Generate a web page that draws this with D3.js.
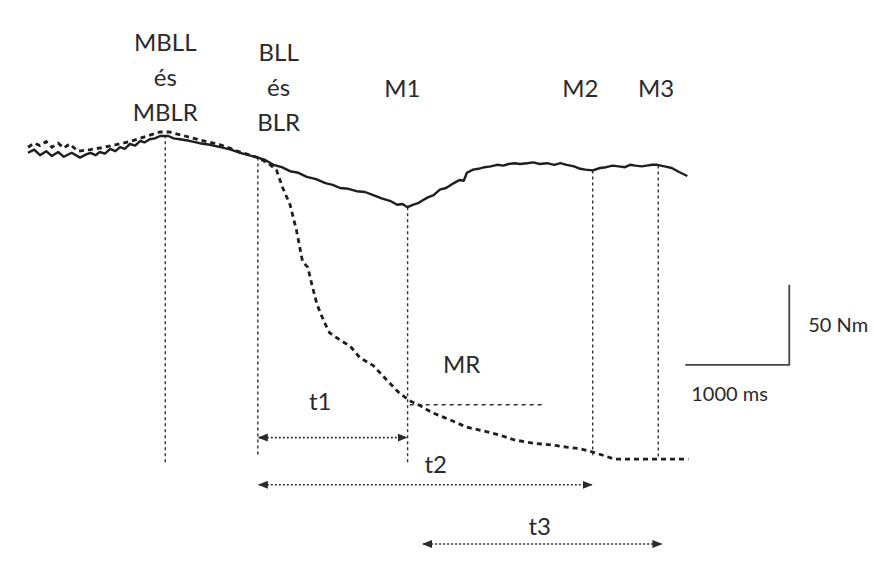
<!DOCTYPE html>
<html>
<head>
<meta charset="utf-8">
<script src="https://cdn.jsdelivr.net/npm/d3@7"></script>
<style>
  body { margin: 0; background: #fff; }
  text { font-family: Lato, "Open Sans", sans-serif; fill: #2a2a2a; }
</style>
</head>
<body>
<script>
// time in ms, torque in Nm
var solidTime = [0, 60, 115, 175, 230, 290, 345, 420, 500, 560, 600, 650, 690, 740, 790, 840, 885, 930, 980, 1030, 1080, 1120, 1170, 1220, 1270, 1350, 1400, 1460, 1550, 1650, 1750, 1850, 1950, 2040, 2120, 2210, 2280, 2360, 2440, 2520, 2600, 2680, 2770, 2860, 2930, 3000, 3080, 3160, 3240, 3320, 3400, 3480, 3550, 3600, 3650, 3700, 3750, 3800, 3840, 3900, 3960, 4020, 4080, 4120, 4150, 4190, 4220, 4280, 4330, 4390, 4450, 4510, 4570, 4620, 4680, 4730, 4800, 4860, 4920, 4990, 5060, 5120, 5180, 5250, 5310, 5360, 5430, 5500, 5560, 5620, 5680, 5740, 5790, 5840, 5900, 5950, 6000, 6050, 6120, 6190, 6260, 6340];
var solidTorque = [192, 194, 190.5, 193, 190, 192.5, 189.5, 192, 189, 191, 192, 190.5, 192.5, 191.5, 194.5, 193, 195.5, 194.5, 197.5, 196.5, 199.5, 198.5, 200.5, 201, 202.5, 202.5, 201, 200.5, 199.5, 198, 197, 195.5, 194, 192, 190.5, 189, 187.5, 184.5, 183, 180.5, 179.5, 177, 175.5, 173, 172, 170, 169.5, 168, 167.5, 165.5, 163.5, 162, 159.5, 160, 158, 159.5, 160.5, 162.5, 164, 165.5, 169, 170, 172.5, 174, 175, 174.5, 179.5, 181.5, 182, 183, 183.5, 184.5, 184, 185, 185.5, 185, 185.5, 186, 185, 185.5, 184.5, 185.5, 184.5, 183.5, 182, 181.5, 181, 182.5, 183, 184, 183.5, 183, 184.5, 184, 183.5, 184, 184.5, 184.5, 183.5, 182.5, 180, 177.5];

var dashTime = [0, 60, 115, 175, 230, 290, 345, 400, 480, 600, 690, 840, 980, 1120, 1270, 1360, 1510, 1650, 1850, 2040, 2210, 2310, 2390, 2450, 2520, 2580, 2640, 2690, 2730, 2780, 2850, 2900, 3000, 3100, 3190, 3320, 3450, 3560, 3670, 3770, 3890, 4060, 4220, 4390, 4540, 4680, 4860, 5020, 5180, 5310, 5430, 5550, 5640, 5890, 6130, 6350];
var dashTorque = [195.5, 198, 196.5, 199, 195.5, 198, 195, 197.5, 193, 194, 195, 197, 199, 202, 205, 205, 202.5, 200, 197, 192.5, 189, 185.5, 181, 170, 159.5, 144, 124, 120.5, 109.5, 97, 86, 79.5, 75, 71, 64, 59, 50, 42.5, 37, 34, 29.5, 25, 20.5, 18, 15.5, 12.5, 10.5, 9.5, 8, 7, 5, 2.5, 0.5, 0.5, 0.5, 0.5];

// vertical marker lines: time, top torque, bottom torque
var markerNames = ["MBLL", "BLL", "M1", "M2", "M3"];
var markerTime = [1320, 2210, 3650, 5430, 6060];
var markerTop = [203, 189, 158, 181, 184];
var markerBottom = [-1.5, 3, -2, 3, 1];

// labels above the chart
var topLabels = [["MBLL", "és", "MBLR"], ["BLL", "és", "BLR"], ["M1"], ["M2"], ["M3"]];
var topLabelTime = [1320, 2410, 3600, 5310, 6040];
var topLabelBaseline = [51, 61, 97, 97, 97];

// time intervals (double arrows)
var spanNames = ["t1", "t2", "t3"];
var spanStart = [2210, 2210, 3790];
var spanEnd = [3650, 5430, 6100];
var spanLevel = [14, -15.5, -52.5];
var spanLabelTime = [2810, 3920, 4920];
var spanLabelLevel = [31, -8, -47];

// MR horizontal line
var mrStart = 3670, mrEnd = 4970, mrLevel = 34.5;

// scale bar
var barTime = 1000, barTorque = 50;

var width = 874, height = 569;

var svg = d3.select("body")
    .append("svg")
    .attr("width", width)
    .attr("height", height);

var x = d3.scaleLinear().domain([0, 7000]).range([28, 28 + 7000 * 0.104]);
var y = d3.scaleLinear().domain([0, 200]).range([460, 140]);

// arrow heads
var defs = svg.append("defs");
defs.append("marker")
    .attr("id", "head")
    .attr("viewBox", "0 0 10 10")
    .attr("refX", 9).attr("refY", 5)
    .attr("markerWidth", 10).attr("markerHeight", 10)
    .attr("markerUnits", "userSpaceOnUse")
    .attr("orient", "auto-start-reverse")
    .append("path")
    .attr("d", "M0,1 L10,5 L0,9 Z")
    .attr("fill", "#2a2a2a");

// marker lines
svg.selectAll(".mline")
    .data(markerTime)
    .enter().append("line")
    .attr("class", "mline")
    .attr("x1", function(d) { return x(d); })
    .attr("x2", function(d) { return x(d); })
    .attr("y1", function(d, i) { return y(markerTop[i]); })
    .attr("y2", function(d, i) { return y(markerBottom[i]); })
    .attr("stroke", "#333")
    .attr("stroke-width", 1.4)
    .attr("stroke-dasharray", "3,3");

// MR line
svg.append("line")
    .attr("x1", x(mrStart)).attr("x2", x(mrEnd))
    .attr("y1", y(mrLevel)).attr("y2", y(mrLevel))
    .attr("stroke", "#333")
    .attr("stroke-width", 1.4)
    .attr("stroke-dasharray", "4,4");

var line = d3.line()
    .x(function(d) { return x(d[0]); })
    .y(function(d) { return y(d[1]); });

// dashed curve
svg.append("path")
    .datum(d3.zip(dashTime, dashTorque))
    .attr("d", line)
    .attr("fill", "none")
    .attr("stroke", "#1e1e1e")
    .attr("stroke-width", 2.8)
    .attr("stroke-dasharray", "5,4");

// solid curve
svg.append("path")
    .datum(d3.zip(solidTime, solidTorque))
    .attr("d", line)
    .attr("fill", "none")
    .attr("stroke", "#1e1e1e")
    .attr("stroke-width", 2.4)
    .attr("stroke-linejoin", "round");

// interval arrows
svg.selectAll(".span")
    .data(spanNames)
    .enter().append("line")
    .attr("class", "span")
    .attr("x1", function(d, i) { return x(spanStart[i]) + 1; })
    .attr("x2", function(d, i) { return x(spanEnd[i]) - 1; })
    .attr("y1", function(d, i) { return y(spanLevel[i]); })
    .attr("y2", function(d, i) { return y(spanLevel[i]); })
    .attr("stroke", "#333")
    .attr("stroke-width", 1.6)
    .attr("stroke-dasharray", "2,2")
    .attr("marker-start", "url(#head)")
    .attr("marker-end", "url(#head)");

svg.selectAll(".spanlabel")
    .data(spanNames)
    .enter().append("text")
    .attr("x", function(d, i) { return x(spanLabelTime[i]); })
    .attr("y", function(d, i) { return y(spanLabelLevel[i]); })
    .attr("text-anchor", "middle")
    .style("font-size", "24px")
    .text(function(d) { return d; });

svg.append("text")
    .attr("x", x(4170)).attr("y", y(54.5))
    .attr("text-anchor", "middle")
    .style("font-size", "24px")
    .text("MR");

// top labels
topLabels.forEach(function(lines, i) {
    var t = svg.append("text")
        .attr("text-anchor", "middle")
        .style("font-size", "24px");
    lines.forEach(function(s, j) {
        t.append("tspan")
            .attr("x", x(topLabelTime[i]))
            .attr("y", topLabelBaseline[i] + j * 35)
            .text(s);
    });
});

// scale bar
var bx0 = 6320, by0 = 59.5;
svg.append("path")
    .attr("d", "M" + x(bx0) + "," + y(by0) + " L" + x(bx0 + barTime) + "," + y(by0) + " L" + x(bx0 + barTime) + "," + y(by0 + barTorque))
    .attr("fill", "none")
    .attr("stroke", "#444")
    .attr("stroke-width", 1.8);

svg.append("text")
    .attr("x", x(bx0 + barTime) + 19)
    .attr("y", y(by0 + barTorque / 2) + 7)
    .style("font-size", "20px")
    .text(barTorque + " Nm");

svg.append("text")
    .attr("x", x(bx0) + 6)
    .attr("y", y(by0) + 36)
    .style("font-size", "20px")
    .text(barTime + " ms");
</script>
</body>
</html>
